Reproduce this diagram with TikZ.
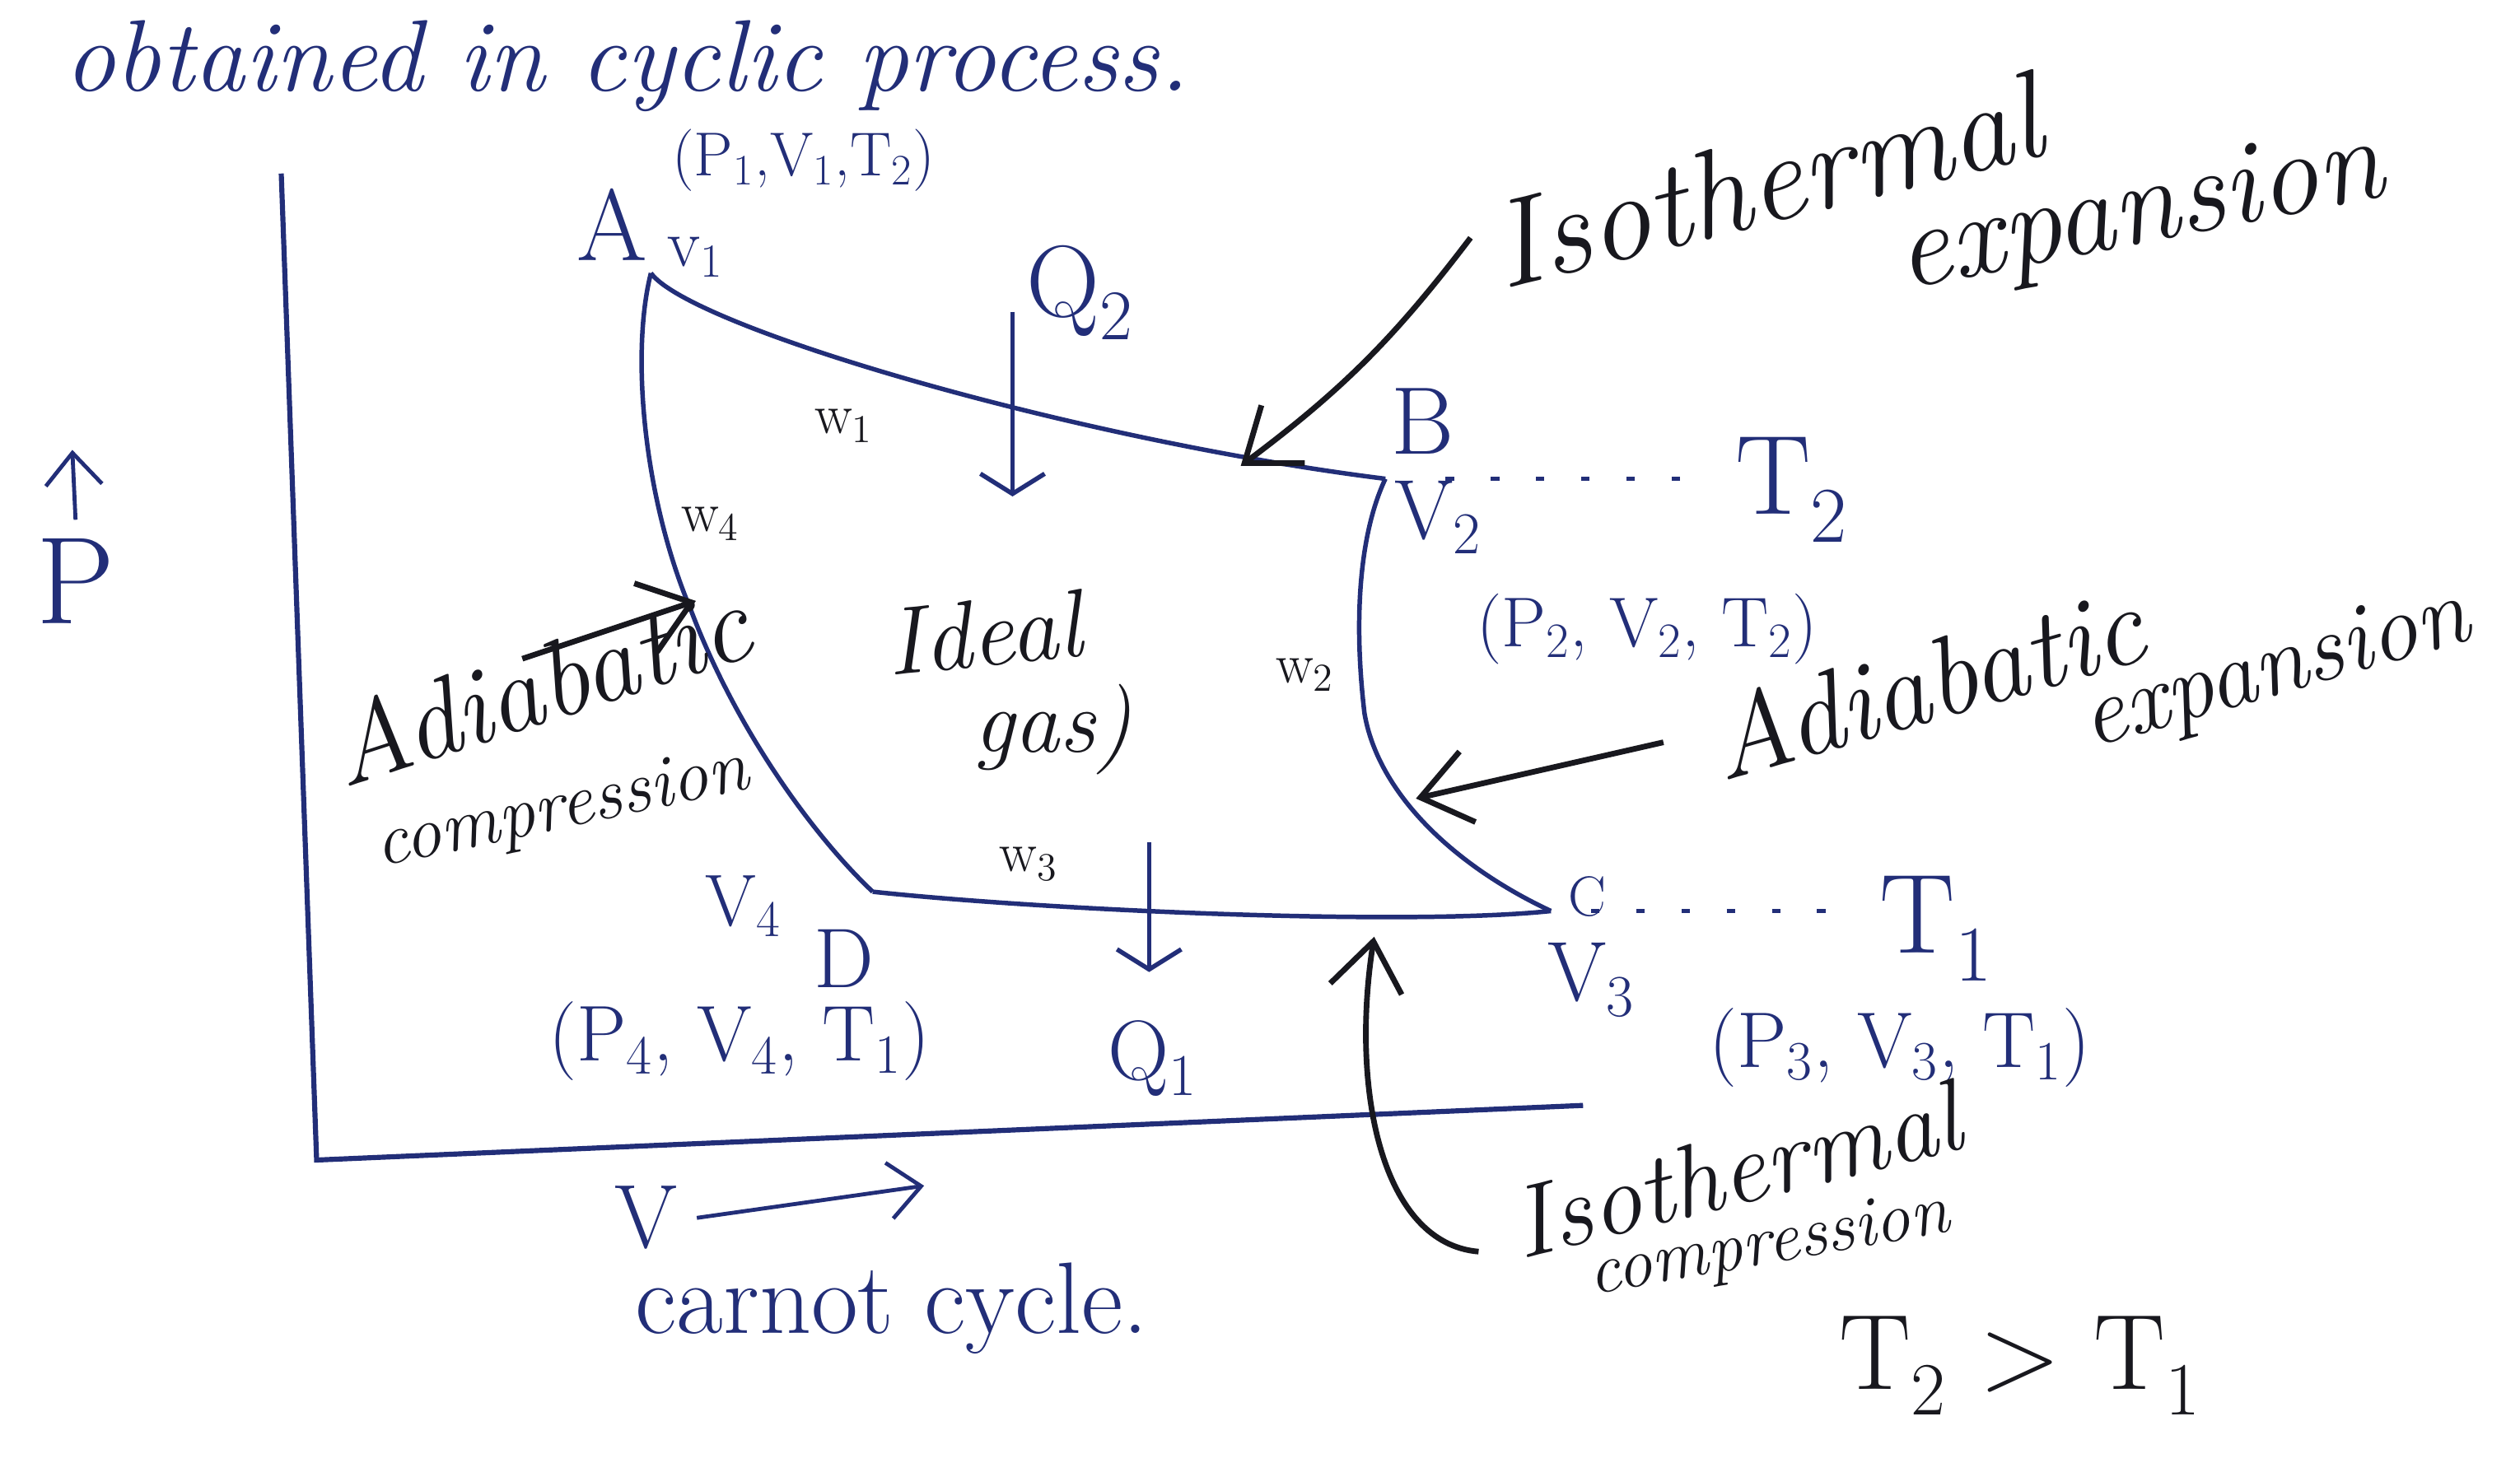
\documentclass[tikz,border=0pt]{standalone}
\usepackage{tikz}
\usetikzlibrary{arrows.meta,positioning}
\definecolor{inkblue}{RGB}{34,46,120}
\definecolor{inkblack}{RGB}{24,24,30}
\newcommand{\fs}[1]{\fontsize{#1}{#1}\selectfont}
\tikzset{
  axis/.style={inkblue, line width=1.8pt},
  cycleline/.style={inkblue, line width=1.6pt},
  isoline/.style={inkblue, line width=1.6pt, dash pattern=on 3pt off 13pt},
  heat/.style={inkblue, line width=1.6pt, -{Straight Barb[length=2.5mm,width=8mm]}},
  axisarrow/.style={inkblue, line width=1.4pt, -{Straight Barb[length=4mm,width=7mm]}},
  pointer/.style={inkblack, line width=2pt, -{Straight Barb[length=6mm,width=9mm]}},
  lab/.style={inkblue, inner sep=1pt},
  work/.style={inkblack, inner sep=1pt, font=\fs{20}},
  note/.style={inkblack, inner sep=1pt},
}

\begin{document}
\begin{tikzpicture}[x=1cm,y=1cm]
  \path[use as bounding box] (0,0) rectangle (31.36,18.38);

  \node[lab, font=\itshape\fs{36}, anchor=base] (head) at (7.8,17.25)
    {obtained in cyclic process.};

  % P-V axes.
  \coordinate (ytop) at (3.50,16.22);
  \coordinate (O) at (3.94,3.94);
  \coordinate (xend) at (19.70,4.62);
  \draw[axis] (ytop) -- (O) -- (xend);

  \node[lab, font=\fs{44}] (P) at (0.94,11.14) {P};
  \coordinate (Ptip) at (0.90,12.78);
  \draw[axisarrow] ([yshift=2mm]P.north) -- (Ptip);

  \node[lab, font=\fs{32}] (V) at (8.04,3.22) {V};
  \coordinate (Vtip) at (11.5,3.62);
  \draw[axisarrow] ([xshift=2mm]V.east) -- (Vtip);

  % Corners of the cycle.
  \coordinate (A) at (8.10,14.98);
  \coordinate (B) at (17.24,12.42);
  \coordinate (C) at (19.30,7.04);
  \coordinate (D) at (10.86,7.28);

  % A-B and C-D isothermal, B-C and D-A adiabatic.
  \draw[cycleline] (A) .. controls (8.6,14.3) and (13.4,12.9) .. (B);
  \draw[cycleline] (B) .. controls (16.9,11.7) and (16.85,10.6) .. (16.98,9.5)
    .. controls (17.15,8.5) and (18.1,7.6) .. (C);
  \draw[cycleline] (C) .. controls (17.5,6.85) and (13.0,7.05) .. (D);
  \draw[cycleline] (D) .. controls (10.2,7.9) and (9.2,9.2) .. (8.6,10.78)
    .. controls (8.0,12.2) and (7.85,14.0) .. (A);

  % Temperature levels.
  \coordinate (T2end) at (21.0,12.42);
  \coordinate (T1end) at (23.0,7.04);
  \draw[isoline] ([xshift=7.5mm]B) -- (T2end);
  \draw[isoline] ([xshift=5mm]C) -- (T1end);
  \node[lab, font=\fs{40}] (T2) at (22.3,12.28) {T\textsubscript{2}};
  \node[lab, font=\fs{40}] (T1) at (24.1,6.82) {T\textsubscript{1}};

  % State labels.
  \node[lab, font=\fs{36}] (Alab) at (7.62,15.58) {A};
  \node[lab, font=\fs{24}] (v1) at (8.66,15.18) {v\textsubscript{1}};
  \node[lab, font=\fs{22}] (Astate) at (10.0,16.38)
    {(P\textsubscript{1},V\textsubscript{1},T\textsubscript{2})};

  \node[lab, font=\fs{34}] (Blab) at (17.7,13.14) {B};
  \node[lab, font=\fs{30}] (v2) at (17.9,11.94) {V\textsubscript{2}};
  \node[lab, font=\fs{25}] (Bstate) at (20.5,10.55)
    {(P\textsubscript{2}, V\textsubscript{2}, T\textsubscript{2})};

  \node[lab, font=\fs{20}] (Clab) at (19.75,7.22) {C};
  \node[lab, font=\fs{30}] (v3) at (19.8,6.18) {V\textsubscript{3}};
  \node[lab, font=\fs{28}] (Cstate) at (23.64,5.34)
    {(P\textsubscript{3}, V\textsubscript{3}, T\textsubscript{1})};

  \node[lab, font=\fs{30}] (Dlab) at (10.5,6.45) {D};
  \node[lab, font=\fs{26}] (v4) at (9.25,7.1) {V\textsubscript{4}};
  \node[lab, font=\fs{28}] (Dstate) at (9.2,5.42)
    {(P\textsubscript{4}, V\textsubscript{4}, T\textsubscript{1})};

  % Heat taken in and given out.
  \node[lab, font=\fs{36}] (Q2) at (13.44,14.74) {Q\textsubscript{2}};
  \coordinate (q2a) at (12.6,14.5);
  \coordinate (q2b) at (12.6,12.2);
  \draw[heat] (q2a) -- (q2b);
  \node[lab, font=\fs{30}] (Q1) at (14.35,5.2) {Q\textsubscript{1}};
  \coordinate (q1a) at (14.3,7.9);
  \coordinate (q1b) at (14.3,6.28);
  \draw[heat] (q1a) -- (q1b);

  % Work on each stroke.
  \node[work] (w1) at (10.5,13.08) {w\textsubscript{1}};
  \node[work] (w2) at (16.24,9.98) {w\textsubscript{2}};
  \node[work] (w3) at (12.8,7.62) {w\textsubscript{3}};
  \node[work] (w4) at (8.84,11.86) {w\textsubscript{4}};

  \node[note, font=\itshape\fs{34}, rotate=6] (ideal) at (12.24,10.5) {Ideal};
  \node[note, font=\itshape\fs{32}] (gas) at (13.1,9.3) {gas)};

  % Stroke names.
  \node[note, font=\itshape\fs{44}, rotate=14, anchor=base] (isoexpA) at (22.1,15.62) {Isothermal};
  \node[note, font=\itshape\fs{42}, rotate=11, anchor=base] (isoexpB) at (26.7,15.36) {expansion};
  \coordinate (ieTail) at (18.3,15.42);
  \coordinate (ieTip) at (15.44,12.58);
  \draw[pointer] (ieTail) to[bend left=8] (ieTip);

  \node[note, font=\itshape\fs{40}, rotate=16, anchor=base] (adiexpA) at (24.1,9.42) {Adiabatic};
  \node[note, font=\itshape\fs{34}, rotate=16, anchor=base] (adiexpB) at (28.4,9.75) {expansion};
  \coordinate (aeTail) at (20.7,9.14);
  \coordinate (aeTip) at (17.62,8.44);
  \draw[pointer] (aeTail) -- (aeTip);

  \node[note, font=\itshape\fs{39}, rotate=18, anchor=base] (adicompA) at (6.85,9.4) {Adiabatic};
  \node[note, font=\itshape\fs{26}, rotate=12, anchor=base] (adicompB) at (7.04,8.08) {compression};
  \coordinate (acTail) at (6.5,10.18);
  \coordinate (acTip) at (8.66,10.9);
  \draw[pointer] (acTail) -- (acTip);

  \node[note, font=\itshape\fs{36}, rotate=14, anchor=base] (isocompA) at (21.7,3.4) {Isothermal};
  \node[note, font=\itshape\fs{25}, rotate=10, anchor=base] (isocompB) at (22.05,2.66) {compression};
  \coordinate (icTail) at (18.4,2.8);
  \coordinate (icTip) at (17.1,6.72);
  \draw[pointer] (icTail) .. controls (17.2,2.9) and (16.8,4.8) .. (icTip);

  \node[lab, font=\fs{36}, anchor=base] (title) at (11.1,1.78) {carnot cycle.};
  \node[note, font=\fs{38}] (order) at (25.14,1.38) {T\textsubscript{2} > T\textsubscript{1}};
\end{tikzpicture}
\end{document}
